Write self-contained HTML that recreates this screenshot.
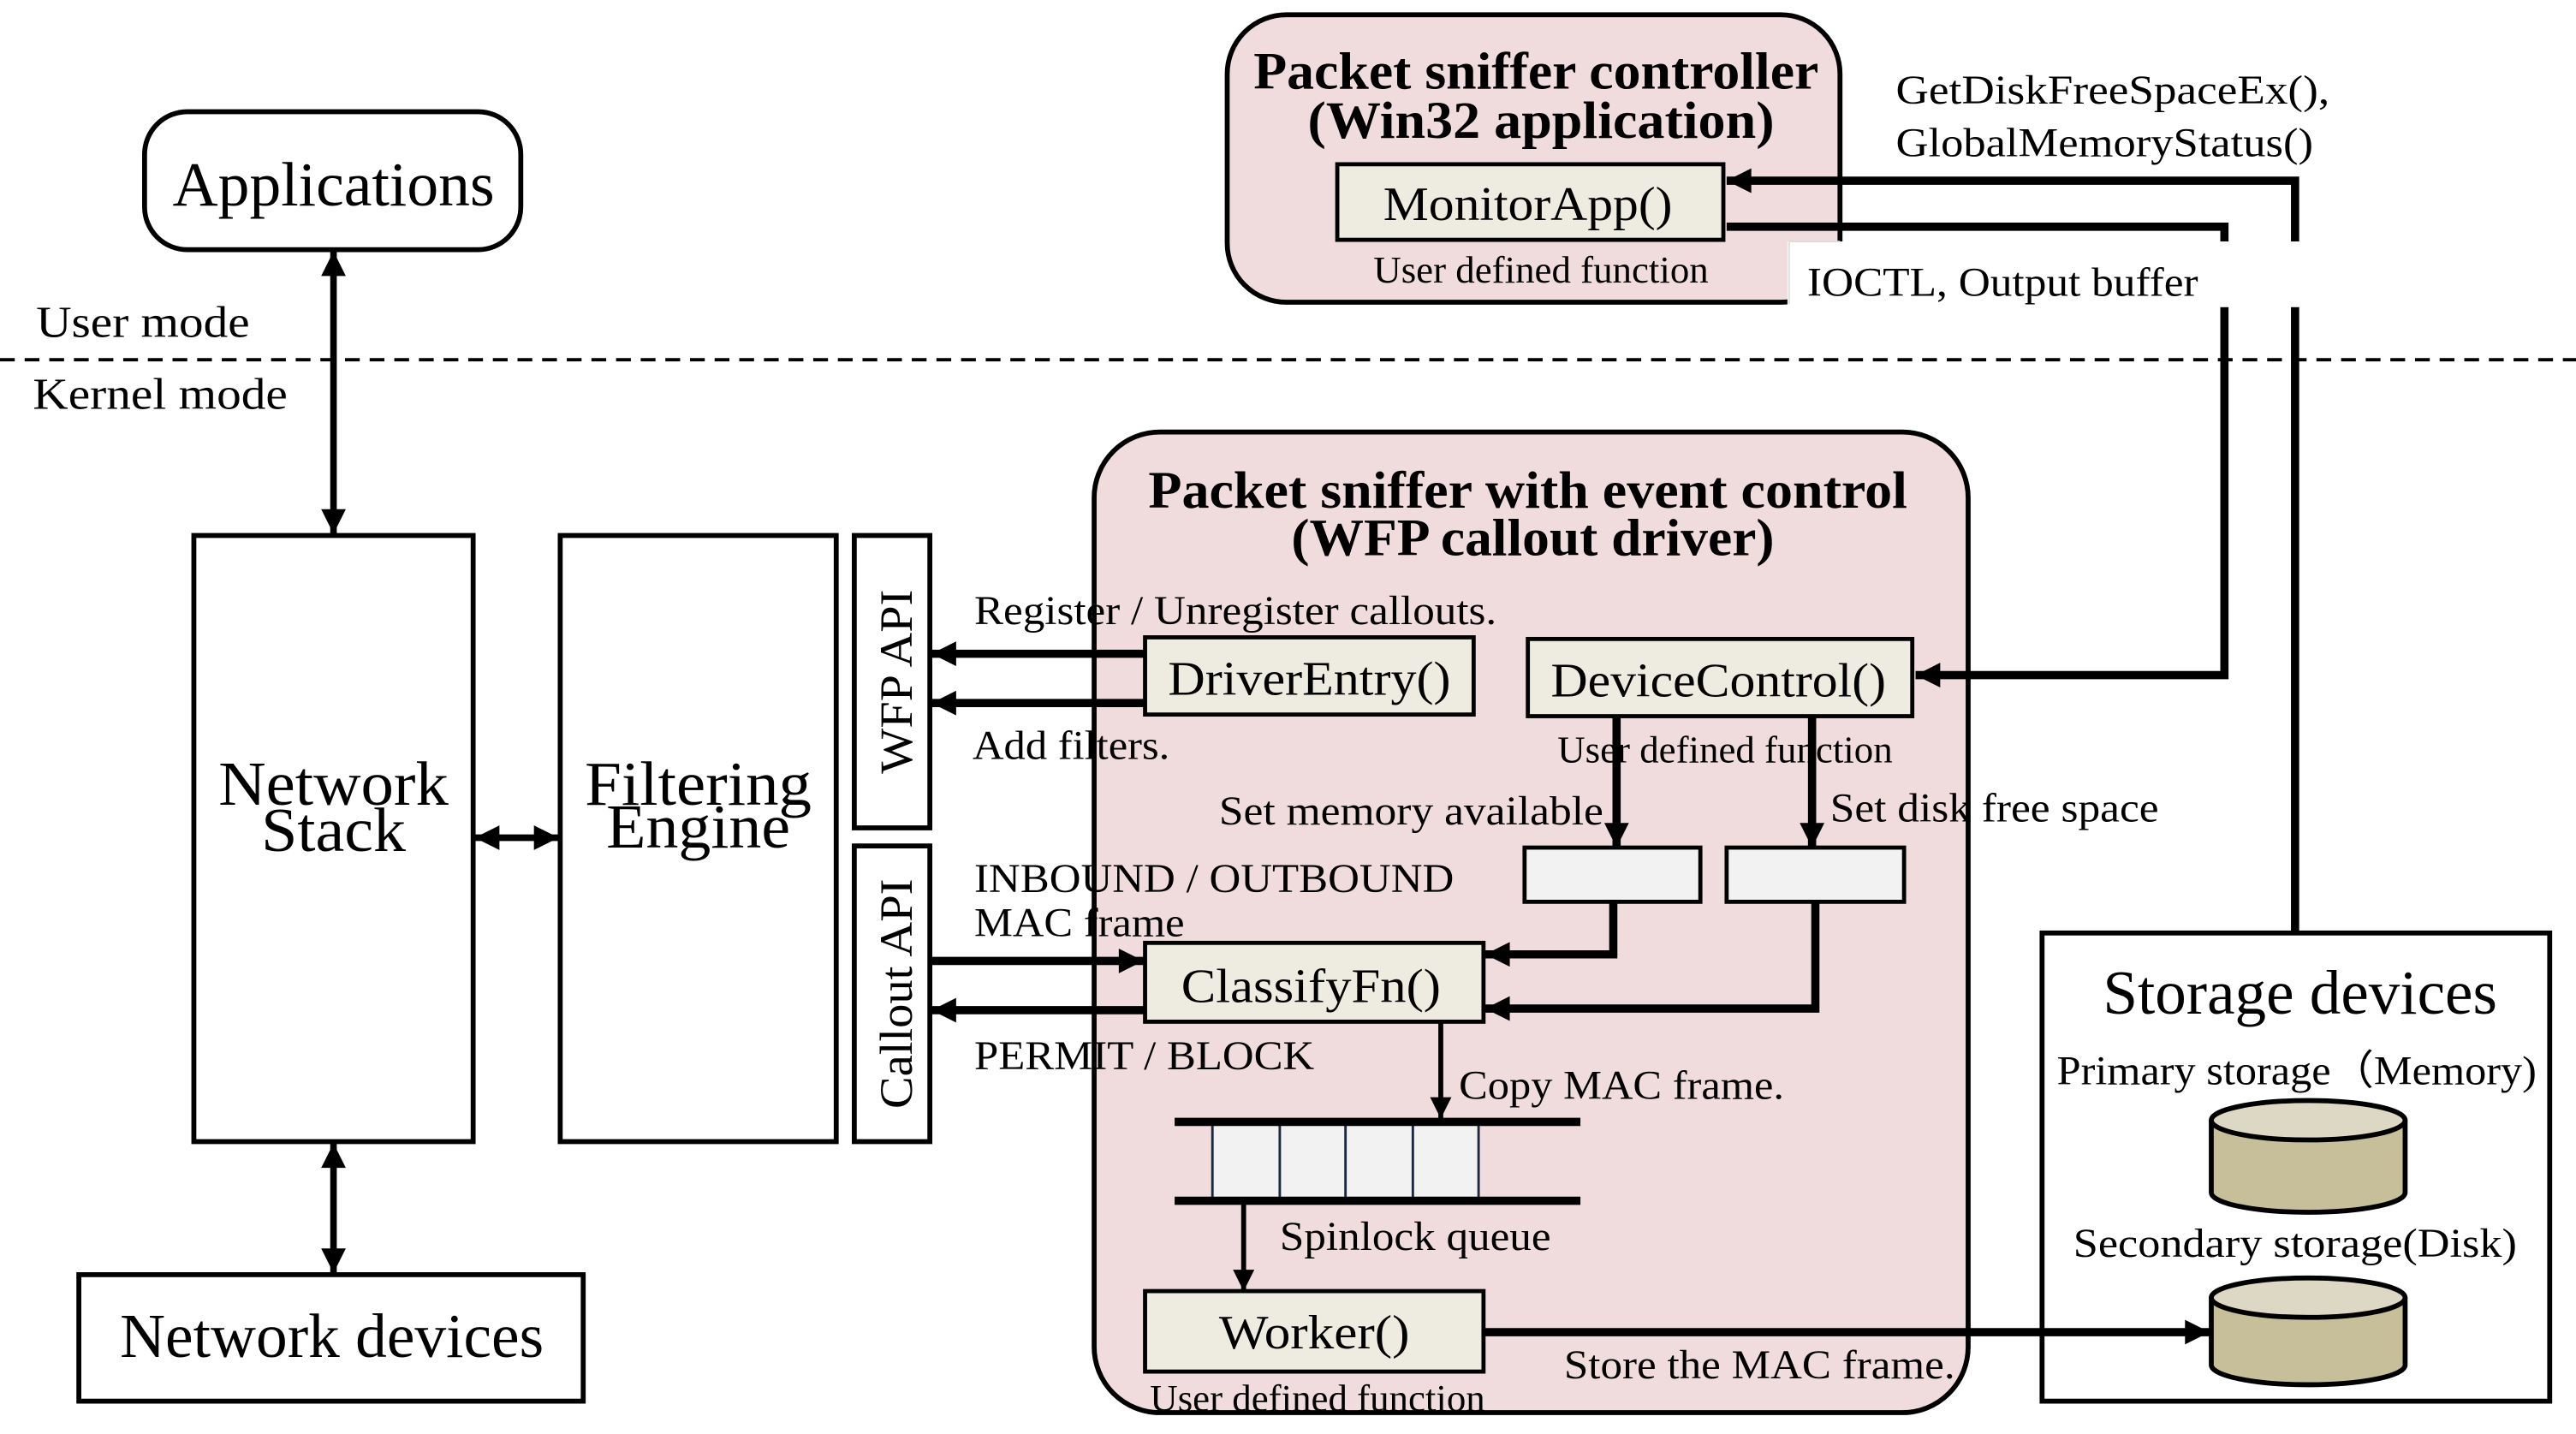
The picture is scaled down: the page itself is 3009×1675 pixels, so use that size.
<!DOCTYPE html>
<html><head><meta charset="utf-8"><style>
html,body{margin:0;padding:0;background:#fff;}
svg{display:block}
text{font-family:"Liberation Serif",serif;fill:#000}
.b{font-weight:bold}
</style></head><body>
<svg width="3009" height="1675" viewBox="0 0 1568 873" preserveAspectRatio="none" xmlns="http://www.w3.org/2000/svg">
<defs>
<marker id="a" viewBox="0 0 10 10" refX="10" refY="5" markerWidth="17" markerHeight="15" orient="auto-start-reverse" markerUnits="userSpaceOnUse"><path d="M0,0L10,5L0,10z" fill="#000"/></marker>
<marker id="a2" viewBox="0 0 10 10" refX="10" refY="5" markerWidth="20" markerHeight="13" orient="auto-start-reverse" markerUnits="userSpaceOnUse"><path d="M0,0L10,5L0,10z" fill="#000"/></marker>
</defs>

<!-- user/kernel -->
<line x1="0" y1="219" x2="1568" y2="219" stroke="#000" stroke-width="2" stroke-dasharray="9,6"/>
<text x="22" y="205" font-size="27" textLength="130" lengthAdjust="spacingAndGlyphs">User mode</text>
<text x="20" y="249" font-size="27" textLength="155" lengthAdjust="spacingAndGlyphs">Kernel mode</text>

<!-- Applications -->
<rect x="88" y="68" width="229" height="84" rx="26" fill="#fff" stroke="#000" stroke-width="3"/>
<text x="203" y="125" font-size="38" text-anchor="middle" textLength="196" lengthAdjust="spacingAndGlyphs">Applications</text>
<line x1="203" y1="153" x2="203" y2="325" stroke="#000" stroke-width="4" marker-start="url(#a)" marker-end="url(#a)"/>

<!-- Network stack / filtering engine -->
<rect x="118" y="326" width="170" height="369" fill="#fff" stroke="#000" stroke-width="3"/>
<text x="203" y="490" font-size="38" text-anchor="middle" textLength="140" lengthAdjust="spacingAndGlyphs">Network</text>
<text x="203" y="518" font-size="38" text-anchor="middle" textLength="88" lengthAdjust="spacingAndGlyphs">Stack</text>
<rect x="341" y="326" width="168" height="369" fill="#fff" stroke="#000" stroke-width="3"/>
<text x="425" y="490" font-size="38" text-anchor="middle" textLength="138" lengthAdjust="spacingAndGlyphs">Filtering</text>
<text x="425" y="516" font-size="38" text-anchor="middle" textLength="112" lengthAdjust="spacingAndGlyphs">Engine</text>
<line x1="289" y1="510" x2="340" y2="510" stroke="#000" stroke-width="4" marker-start="url(#a)" marker-end="url(#a)"/>

<rect x="520" y="326" width="46" height="178" fill="#fff" stroke="#000" stroke-width="3"/>
<text transform="translate(555,415) rotate(-90)" font-size="28" text-anchor="middle" textLength="112" lengthAdjust="spacingAndGlyphs">WFP API</text>
<rect x="520" y="515" width="46" height="180" fill="#fff" stroke="#000" stroke-width="3"/>
<text transform="translate(555,605) rotate(-90)" font-size="28" text-anchor="middle" textLength="140" lengthAdjust="spacingAndGlyphs">Callout API</text>

<!-- Network devices -->
<rect x="48" y="776" width="307" height="77" fill="#fff" stroke="#000" stroke-width="3"/>
<text x="202" y="826" font-size="38" text-anchor="middle" textLength="258" lengthAdjust="spacingAndGlyphs">Network devices</text>
<line x1="203" y1="696" x2="203" y2="775" stroke="#000" stroke-width="4" marker-start="url(#a)" marker-end="url(#a)"/>

<!-- Controller -->
<rect x="747" y="9" width="373" height="175" rx="36" fill="#f0dcdc" stroke="#000" stroke-width="3"/>
<text class="b" x="935" y="54" font-size="32" text-anchor="middle" textLength="344" lengthAdjust="spacingAndGlyphs">Packet sniffer controller</text>
<text class="b" x="938" y="84" font-size="32" text-anchor="middle" textLength="284" lengthAdjust="spacingAndGlyphs">(Win32 application)</text>
<rect x="814" y="100" width="235" height="46" fill="#eeebe0" stroke="#000" stroke-width="2.5"/>
<text x="930" y="134" font-size="29" text-anchor="middle" textLength="176" lengthAdjust="spacingAndGlyphs">MonitorApp()</text>
<text x="938" y="172" font-size="23" text-anchor="middle" textLength="204" lengthAdjust="spacingAndGlyphs">User defined function</text>

<text x="1154" y="63" font-size="25" textLength="264" lengthAdjust="spacingAndGlyphs">GetDiskFreeSpaceEx(),</text>
<text x="1154" y="95" font-size="25" textLength="254" lengthAdjust="spacingAndGlyphs">GlobalMemoryStatus()</text>

<!-- Driver -->
<rect x="666" y="263" width="532" height="597" rx="40" fill="#f0dcdc" stroke="#000" stroke-width="3"/>
<text class="b" x="930" y="309" font-size="32" text-anchor="middle" textLength="462" lengthAdjust="spacingAndGlyphs">Packet sniffer with event control</text>
<text class="b" x="933" y="338" font-size="32" text-anchor="middle" textLength="294" lengthAdjust="spacingAndGlyphs">(WFP callout driver)</text>

<!-- connectors to controller -->
<polyline points="1397,568 1397,110 1051,110" fill="none" stroke="#000" stroke-width="5" marker-end="url(#a)"/>
<polyline points="1051,138 1354,138 1354,411 1166,411" fill="none" stroke="#000" stroke-width="5" marker-end="url(#a)"/>
<rect x="1088" y="147" width="332" height="40" fill="#fff"/>
<line x1="1089" y1="147" x2="1120" y2="147" stroke="#ddd" stroke-width="1"/>
<line x1="1089" y1="147" x2="1089" y2="185" stroke="#ddd" stroke-width="1"/>
<text x="1100" y="180" font-size="25" textLength="238" lengthAdjust="spacingAndGlyphs">IOCTL, Output buffer</text>

<text x="593" y="380" font-size="25" textLength="318" lengthAdjust="spacingAndGlyphs">Register / Unregister callouts.</text>
<rect x="697" y="388" width="200" height="47" fill="#eeebe0" stroke="#000" stroke-width="2.5"/>
<text x="797" y="423" font-size="29" text-anchor="middle" textLength="172" lengthAdjust="spacingAndGlyphs">DriverEntry()</text>
<line x1="697" y1="398" x2="567" y2="398" stroke="#000" stroke-width="5" marker-end="url(#a)"/>
<line x1="697" y1="428" x2="567" y2="428" stroke="#000" stroke-width="5" marker-end="url(#a)"/>
<text x="592" y="462" font-size="25" textLength="120" lengthAdjust="spacingAndGlyphs">Add filters.</text>

<rect x="930" y="389" width="234" height="47" fill="#eeebe0" stroke="#000" stroke-width="2.5"/>
<text x="1046" y="424" font-size="29" text-anchor="middle" textLength="204" lengthAdjust="spacingAndGlyphs">DeviceControl()</text>
<text x="948" y="464" font-size="23" textLength="204" lengthAdjust="spacingAndGlyphs">User defined function</text>
<line x1="984" y1="437" x2="984" y2="516" stroke="#000" stroke-width="5" marker-end="url(#a)"/>
<line x1="1103" y1="437" x2="1103" y2="516" stroke="#000" stroke-width="5" marker-end="url(#a)"/>
<text x="976" y="502" font-size="25" text-anchor="end" textLength="234" lengthAdjust="spacingAndGlyphs">Set memory available</text>
<text x="1114" y="500" font-size="25" textLength="200" lengthAdjust="spacingAndGlyphs">Set disk free space</text>

<rect x="928" y="516" width="107" height="33" fill="#f2f2f2" stroke="#000" stroke-width="2.5"/>
<rect x="1051" y="516" width="108" height="33" fill="#f2f2f2" stroke="#000" stroke-width="2.5"/>
<polyline points="982,549 982,581 904,581" fill="none" stroke="#000" stroke-width="5" marker-end="url(#a)"/>
<polyline points="1105,549 1105,614 904,614" fill="none" stroke="#000" stroke-width="5" marker-end="url(#a)"/>

<text x="593" y="543" font-size="25" textLength="292" lengthAdjust="spacingAndGlyphs">INBOUND / OUTBOUND</text>
<text x="593" y="570" font-size="25" textLength="128" lengthAdjust="spacingAndGlyphs">MAC frame</text>
<rect x="697" y="574" width="206" height="48" fill="#eeebe0" stroke="#000" stroke-width="2.5"/>
<text x="798" y="610" font-size="29" text-anchor="middle" textLength="158" lengthAdjust="spacingAndGlyphs">ClassifyFn()</text>
<line x1="566" y1="585" x2="696" y2="585" stroke="#000" stroke-width="5" marker-end="url(#a)"/>
<line x1="697" y1="615" x2="567" y2="615" stroke="#000" stroke-width="5" marker-end="url(#a)"/>
<text x="593" y="651" font-size="25" textLength="207" lengthAdjust="spacingAndGlyphs">PERMIT / BLOCK</text>

<line x1="877" y1="622" x2="877" y2="681" stroke="#000" stroke-width="3" marker-end="url(#a2)"/>
<text x="888" y="669" font-size="25" textLength="198" lengthAdjust="spacingAndGlyphs">Copy MAC frame.</text>

<rect x="738" y="684" width="162" height="46" fill="#f2f2f2" stroke="#1a2a44" stroke-width="1.5"/>
<line x1="779" y1="684" x2="779" y2="730" stroke="#1a2a44" stroke-width="1.5"/>
<line x1="819" y1="684" x2="819" y2="730" stroke="#1a2a44" stroke-width="1.5"/>
<line x1="860" y1="684" x2="860" y2="730" stroke="#1a2a44" stroke-width="1.5"/>
<line x1="715" y1="683" x2="962" y2="683" stroke="#000" stroke-width="5"/>
<line x1="715" y1="731" x2="962" y2="731" stroke="#000" stroke-width="5"/>
<line x1="757" y1="731" x2="757" y2="786" stroke="#000" stroke-width="3" marker-end="url(#a2)"/>
<text x="779" y="761" font-size="25" textLength="165" lengthAdjust="spacingAndGlyphs">Spinlock queue</text>

<rect x="697" y="786" width="206" height="49" fill="#eeebe0" stroke="#000" stroke-width="2.5"/>
<text x="800" y="821" font-size="29" text-anchor="middle" textLength="116" lengthAdjust="spacingAndGlyphs">Worker()</text>
<text x="700" y="859" font-size="23" textLength="204" lengthAdjust="spacingAndGlyphs">User defined function</text>
<text x="952" y="839" font-size="25" textLength="238" lengthAdjust="spacingAndGlyphs">Store the MAC frame.</text>

<!-- Storage -->
<rect x="1243" y="568" width="309" height="285" fill="#fff" stroke="#000" stroke-width="3"/>
<text x="1400" y="617" font-size="38" text-anchor="middle" textLength="240" lengthAdjust="spacingAndGlyphs">Storage devices</text>
<text x="1398" y="660" font-size="25" text-anchor="middle" textLength="292" lengthAdjust="spacingAndGlyphs">Primary storage（Memory)</text>
<path d="M1346,682 L1346,726 A59,12 0 0 0 1464,726 L1464,682" fill="#c6bf9a" stroke="#000" stroke-width="3"/>
<ellipse cx="1405" cy="682" rx="59" ry="12" fill="#dcd8c4" stroke="#000" stroke-width="3"/>
<text x="1397" y="765" font-size="25" text-anchor="middle" textLength="270" lengthAdjust="spacingAndGlyphs">Secondary storage(Disk)</text>
<path d="M1346,790 L1346,831 A59,12 0 0 0 1464,831 L1464,790" fill="#c6bf9a" stroke="#000" stroke-width="3"/>
<ellipse cx="1405" cy="790" rx="59" ry="12" fill="#dcd8c4" stroke="#000" stroke-width="3"/>
<line x1="903" y1="811" x2="1345" y2="811" stroke="#000" stroke-width="5" marker-end="url(#a)"/>
</svg>
</body></html>
